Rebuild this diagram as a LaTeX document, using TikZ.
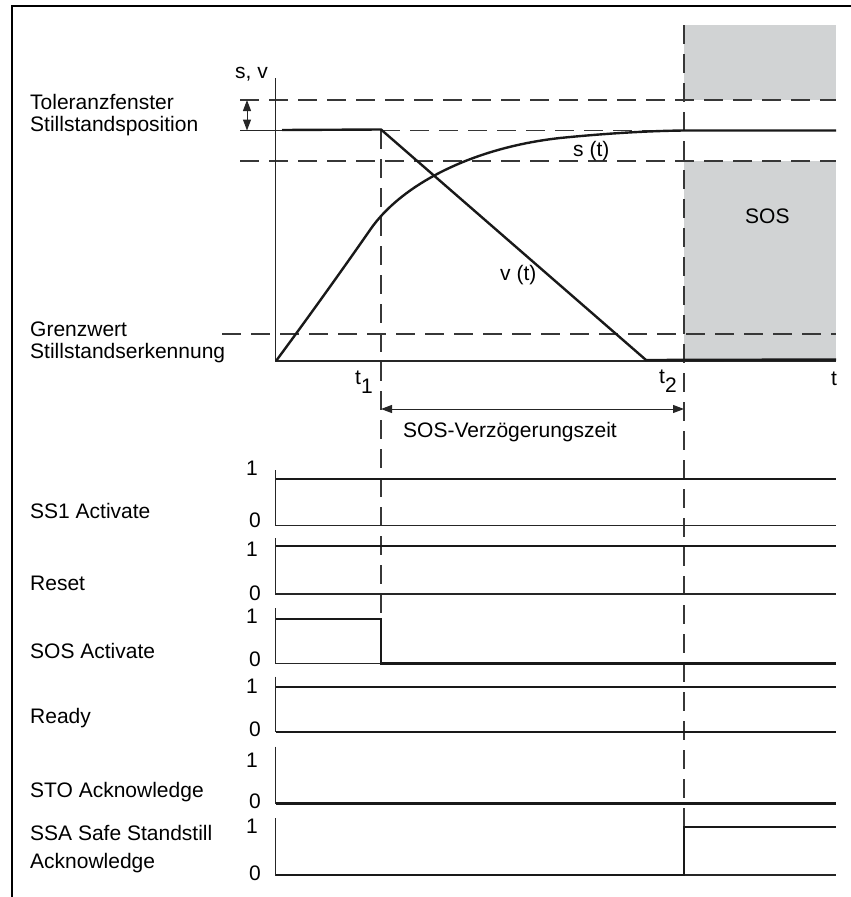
\documentclass[tikz,border=0pt]{standalone}
\usepackage{fontspec}
\setmainfont{Liberation Sans}
\usetikzlibrary{arrows.meta}
\definecolor{sosgray}{RGB}{209,211,212}
\definecolor{dashgray}{RGB}{55,55,55}
\begin{document}
\begin{tikzpicture}[x=1pt,y=-1pt,
  lbl/.style={inner sep=0pt, anchor=base west, font=\fontsize{21}{22}\selectfont},
  dig/.style={inner sep=0pt, anchor=base, font=\fontsize{21}{22}\selectfont},
  guide/.style={draw=dashgray, line width=1.1pt, dash pattern=on 19pt off 10pt},
  axisln/.style={draw=black!85, line width=1.2pt},
  sighi/.style={draw=black!90, line width=2.4pt},
  curveln/.style={draw=black!90, line width=2.4pt},
  dimarrow/.style={draw=black!85, line width=1pt, {Triangle[length=11pt,width=8pt]}-{Triangle[length=11pt,width=8pt]}}]
\useasboundingbox (0,0) rectangle (851,897);
% frame
\draw[line width=1.5pt] (12,897) -- (12,6) -- (851,6);
% SOS areas
\fill[sosgray] (684,25) rectangle (836,100);
\fill[sosgray] (684,161) rectangle (836,360);
% key coordinates
\coordinate (o) at (275.7,361);
\coordinate (ytop) at (275.7,78);
\coordinate (xend) at (836,361);
\coordinate (t1a) at (381,130);
\coordinate (t1b) at (381,618.7);
\coordinate (t2a) at (684,25);
\coordinate (t2b) at (684,826.7);
% dashed guides
\draw[guide] (240,100) -- (836,100);
\draw[guide] (381,130.5) -- (684,130.5);
\draw[guide] (240,161) -- (836,161);
\draw[guide] (222,334) -- (836,334);
\draw[guide] (t1a) -- (t1b);
\draw[guide] (t2a) -- (t2b);
\draw[axisln] (240,130.5) -- (282,130.5);
% axes
\draw[axisln] (ytop) -- (o) -- (xend);
% v(t)
\draw[curveln] (282,130) -- (381,129.5) -- (646,360) -- (836,359.5);
% s(t)
\draw[curveln] (276,361) .. controls (310,315) and (345,266) .. (370,230)
  .. controls (400,186) and (470,148) .. (560,138)
  .. controls (620,132) and (660,130.8) .. (684,130.5) -- (836,130.5);
% tolerance arrow
\draw[dimarrow] (247,100) -- (247,130.5);
% delay arrow
\coordinate (da) at (381,409);
\coordinate (db) at (684,409);
\draw[dimarrow] (da) -- (db);
% upper labels
\node[lbl] (sv) at (235,78) {s, v};
\node[lbl] (tol1) at (30,109.5) {Toleranzfenster};
\node[lbl] (tol2) at (30,131.7) {Stillstandsposition};
\node[lbl] (gw1) at (30,336.7) {Grenzwert};
\node[lbl] (gw2) at (30,358.5) {Stillstandserkennung};
\node[lbl] (st) at (573,156) {s (t)};
\node[lbl] (vt) at (500,280) {v (t)};
\node[lbl] (sos) at (745,223) {SOS};
\node[lbl] (t1) at (355,384) {t\raisebox{-9pt}{1}};
\node[lbl] (t2) at (659,383.5) {t\raisebox{-9pt}{2}};
\node[lbl] (tt) at (831,385.5) {t};
\node[lbl] (delay) at (403,437) {SOS-Verzögerungszeit};
% timing rows: axes + zero lines
\draw[axisln] (275.7,470) -- (275.7,525.7) -- (836,525.7);
\draw[axisln] (275.7,538) -- (275.7,594) -- (836,594);
\draw[axisln] (275.7,608) -- (275.7,663.3) -- (836,663.3);
\draw[axisln] (275.7,676.7) -- (275.7,731.7) -- (836,731.7);
\draw[axisln] (275.7,746.7) -- (275.7,803.3) -- (836,803.3);
\draw[axisln] (275.7,818) -- (275.7,875) -- (836,875);
% signals
\draw[sighi] (276,478.7) -- (836,478.7);
\draw[sighi] (276,546) -- (836,546);
\draw[sighi] (276,618.7) -- (t1b) -- (381,663.3) -- (836,663.3);
\draw[sighi] (276,686.7) -- (836,686.7);
\draw[sighi] (276,731.7) -- (836,731.7);
\draw[sighi] (276,803.3) -- (836,803.3);
\draw[sighi] (276,875) -- (684,875) -- (t2b) -- (836,826.7);
% row labels
\node[lbl] (l1) at (30,518) {SS1 Activate};
\node[lbl] (l2) at (30,590) {Reset};
\node[lbl] (l3) at (30,658) {SOS Activate};
\node[lbl] (l4) at (30,723) {Ready};
\node[lbl] (l5) at (30,797.7) {STO Acknowledge};
\node[lbl] (l6a) at (30,840) {SSA Safe Standstill};
\node[lbl] (l6b) at (30,868) {Acknowledge};
% digits
\node[dig] (h1) at (252,475) {1};
\node[dig] (z1) at (255,527) {0};
\node[dig] (h2) at (252,556.7) {1};
\node[dig] (z2) at (255,600) {0};
\node[dig] (h3) at (252,623) {1};
\node[dig] (z3) at (255,666.7) {0};
\node[dig] (h4) at (252,693) {1};
\node[dig] (z4) at (255,736.7) {0};
\node[dig] (h5) at (252,767) {1};
\node[dig] (z5) at (255,808) {0};
\node[dig] (h6) at (252,833) {1};
\node[dig] (z6) at (255,880) {0};
\end{tikzpicture}
\end{document}
